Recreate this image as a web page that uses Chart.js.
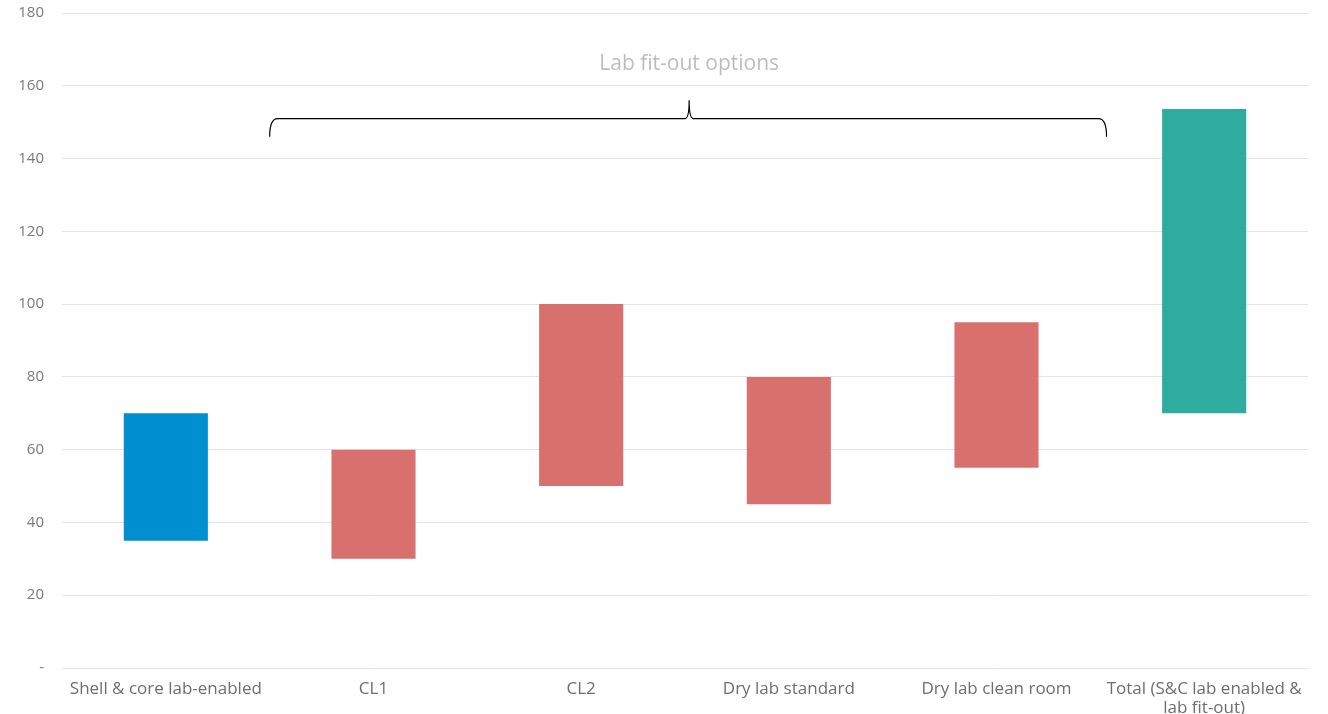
<!DOCTYPE html>
<html><head><meta charset="utf-8">
<script src="https://cdn.jsdelivr.net/npm/chart.js@4.4.0/dist/chart.umd.min.js"></script>
<style>html,body{margin:0;padding:0;background:#fff}#wrap{width:1328px;height:714px}</style>
</head><body><div id="wrap"><canvas id="c"></canvas></div>
<script>
const categories = ["Shell & core lab-enabled", "CL1", "CL2", "Dry lab standard", "Dry lab clean room", ["Total (S&C lab enabled &", "lab fit-out)"]];
const lowValues = [35, 30, 50, 45, 55, 70];
const highValues = [70, 60, 100, 80, 95, 153.6];
const barColors = ["#008fd0", "#d8706e", "#d8706e", "#d8706e", "#d8706e", "#2dac9f"];
const yTicks = [0, 20, 40, 60, 80, 100, 120, 140, 160, 180];
const annotationText = "Lab fit-out options";
const braceFrom = 0.5, braceTo = 4.53, braceMid = 2.52;
const braceY = 151, braceTipY = 156, braceEndY = 146, textY = 166;

const bracePlugin = {
  id: 'brace',
  afterDatasetsDraw(chart) {
    const {ctx, scales: {x, y}} = chart;
    const x1 = x.getPixelForValue(braceFrom), x2 = x.getPixelForValue(braceTo), xm = x.getPixelForValue(braceMid);
    const yb = y.getPixelForValue(braceY), yt = y.getPixelForValue(braceTipY), ye = y.getPixelForValue(braceEndY);
    ctx.save();
    ctx.strokeStyle = '#000'; ctx.lineWidth = 1.2;
    ctx.beginPath();
    ctx.moveTo(x1, ye);
    ctx.quadraticCurveTo(x1, yb, x1 + 8, yb);
    ctx.lineTo(xm - 4, yb);
    ctx.quadraticCurveTo(xm, yb, xm, yt);
    ctx.quadraticCurveTo(xm, yb, xm + 4, yb);
    ctx.lineTo(x2 - 8, yb);
    ctx.quadraticCurveTo(x2, yb, x2, ye);
    ctx.stroke();
    ctx.fillStyle = '#bdbdbd';
    ctx.font = '500 21px "Open Sans"';
    ctx.textAlign = 'center'; ctx.textBaseline = 'middle';
    ctx.fillText(annotationText, xm, y.getPixelForValue(textY));
    ctx.restore();
  }
};

new Chart(document.getElementById('c'), {
  type: 'bar',
  data: {
    labels: categories,
    datasets: [{
      data: lowValues.map((v, i) => [v, highValues[i]]),
      backgroundColor: barColors,
      borderWidth: 0,
      categoryPercentage: 1,
      barPercentage: 0.405
    }]
  },
  options: {
    responsive: true, maintainAspectRatio: false, animation: false,
    layout: {padding: {top: 13, right: 20, left: 0, bottom: 0}},
    plugins: {legend: {display: false}, tooltip: {enabled: false}},
    scales: {
      x: {
        grid: {display: false}, border: {display: false},
        ticks: {color: '#6e6e6e', font: {family: 'Open Sans', size: 17, weight: 500, lineHeight: 1.1}, maxRotation: 0, autoSkip: false, padding: 4},
        afterFit(s) { s.height = 46; s.paddingLeft = 0; s.paddingRight = 0; }
      },
      y: {
        min: 0, max: 180,
        afterBuildTicks(s) { s.ticks = yTicks.map(v => ({value: v})); },
        grid: {color: '#e4e4e4', lineWidth: 1, drawTicks: false},
        border: {display: false},
        ticks: {color: '#7a7a7a', font: {family: 'Open Sans', size: 15, weight: 500}, padding: 18,
          callback: v => v === 0 ? '-' : String(v)},
        afterFit(s) { s.width = 62; s.paddingTop = 0; s.paddingBottom = 0; }
      }
    }
  },
  plugins: [bracePlugin]
});
</script></body></html>
